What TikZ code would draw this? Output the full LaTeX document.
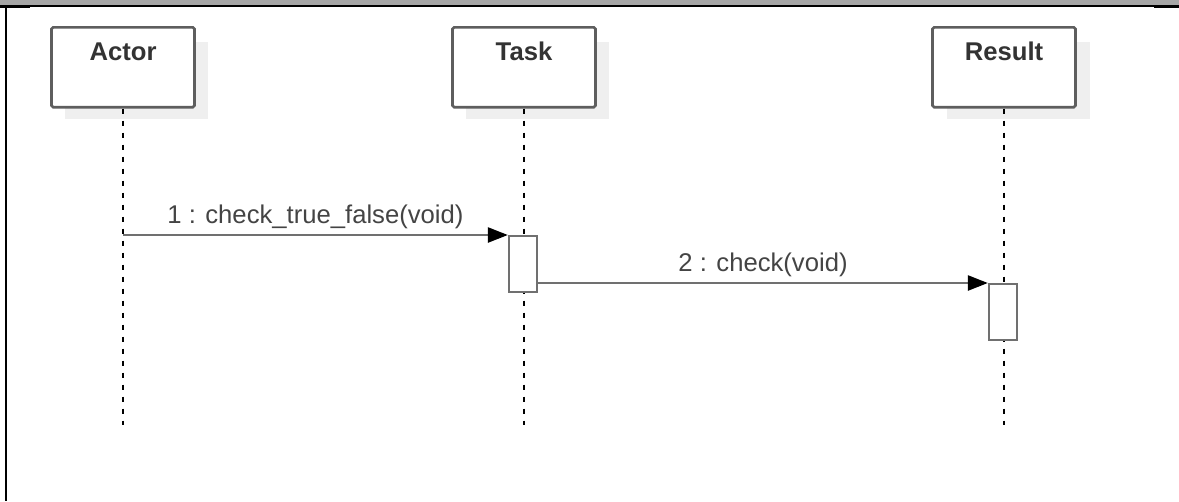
\documentclass[tikz,border=0pt]{standalone}
\usepackage{fontspec}
\setmainfont{Liberation Sans}
\usepackage{xcolor}
\usetikzlibrary{positioning,arrows.meta}
\definecolor{bandgray}{HTML}{A6A6A6}
\definecolor{shadowgray}{HTML}{EFEFEF}
\definecolor{boxgray}{HTML}{5E5E5E}
\definecolor{msggray}{HTML}{707070}
\definecolor{textgray}{HTML}{444444}
\definecolor{headtext}{HTML}{333333}
\tikzset{
  objbox/.style={draw=boxgray,fill=white,line width=1.5pt,rounded corners=1pt,minimum width=2.86cm,minimum height=1.6cm,anchor=north,inner sep=0pt},
  shadowbox/.style={fill=shadowgray,draw=none},
  objname/.style={font=\fontsize{14.6}{17}\selectfont\bfseries,text=headtext,anchor=base,inner sep=0pt},
  lifeline/.style={draw=black,line width=0.7pt,dash pattern=on 0.1cm off 0.14cm},
  actbox/.style={draw=msggray,fill=white,line width=1.3pt,minimum width=0.56cm,minimum height=1.12cm,anchor=north,inner sep=0pt},
  msgline/.style={draw=msggray,line width=1.4pt,-{Triangle[length=0.4cm,width=0.3cm,color=black]}},
  msglabel/.style={font=\fontsize{14.6}{17}\selectfont,text=textgray,anchor=base,inner sep=0pt}
}
\begin{document}
\begin{tikzpicture}[x=0.02cm,y=-0.02cm]
\useasboundingbox (0,0) rectangle (1179,501);
% Frame
\fill[bandgray] (0,0) rectangle (1179,5);
\draw[line width=1.1pt] (0,6) -- (1179,6); % top line
\fill[black] (0,5) rectangle (30,8);
\fill[black] (1154,5) rectangle (1179,8);
\draw[line width=1.1pt] (6,6) -- (6,501); % left line
% Shadows
\fill[shadowgray] (65,42) rectangle (208,119);
\fill[shadowgray] (466,42) rectangle (609,119);
\fill[shadowgray] (947,42) rectangle (1090,119);
% Objects
\node[objbox] (actor) at (123,26) {};
\node[objname] (actorname) at ([yshift=-7mm]actor.north) {Actor};
\node[objbox] (task) at (524,26) {};
\node[objname] (taskname) at ([yshift=-7mm]task.north) {Task};
\node[objbox] (result) at (1004,26) {};
\node[objname] (resultname) at ([yshift=-7mm]result.north) {Result};
% Lifelines
\coordinate (actorend) at (123,425);
\coordinate (taskend) at (524,425);
\coordinate (resultend) at (1004,425);
\draw[lifeline] (actor.south) -- (actorend);
\draw[lifeline] (task.south) -- (taskend);
\draw[lifeline] (result.south) -- (resultend);
% Activations
\node[actbox] (taskact) at (523,235) {};
\node[actbox] (resultact) at (1003,283) {};
\coordinate (actorsend) at (123,235);
% Messages
\draw[msgline] (actorsend) -- node[msglabel,yshift=2.4mm] (msgone) {1 : check\_true\_false(void)} (taskact.north west);
\draw[msgline] (taskact.east |- resultact.north) -- node[msglabel,yshift=2.4mm] (msgtwo) {2 : check(void)} (resultact.north west);
\end{tikzpicture}
\end{document}
